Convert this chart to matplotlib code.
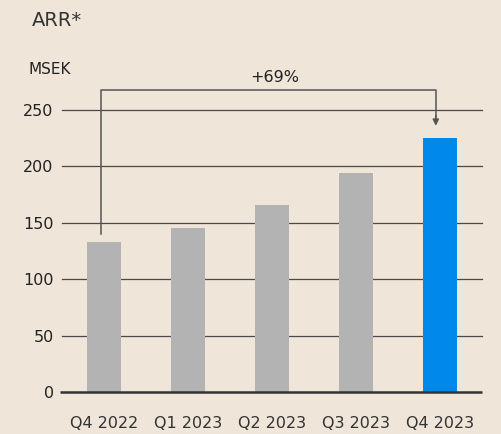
import matplotlib
matplotlib.use("Agg")
from matplotlib import pyplot as plt
import numpy as np

quarters = ["Q4 2022", "Q1 2023", "Q2 2023", "Q3 2023", "Q4 2023"]
arr_msek = [133, 145, 166, 194, 225]
bar_colors = ["#b3b3b3", "#b3b3b3", "#b3b3b3", "#b3b3b3", "#0088ea"]
growth_label = "+69%"

bg = "#efe5d8"
ink = "#222222"
plt.rcParams["font.family"] = ["DejaVu Sans"]

W, H = 501, 434
fig = plt.figure(figsize=(W / 100, H / 100), dpi=100, facecolor=bg)
# axes box in pixels: x 62..482, y (from top) 110..392
ax = fig.add_axes([62 / W, (H - 392) / H, 420 / W, 282 / H], facecolor=bg)

index = np.arange(len(quarters))
for y in [50, 100, 150, 200, 250]:
    ax.axhline(y, color="#4a4a4a", lw=0.9, zorder=1, clip_on=False)
ax.plot([-0.525, 4.5], [0, 0], color="#333333", lw=1.8, zorder=3,
        clip_on=False, solid_capstyle="butt")

ax.bar(index, arr_msek, 0.4, color=bar_colors, zorder=2)

ax.set_xlim(-0.5, 4.5)
ax.set_ylim(0, 250)
for s in ax.spines.values():
    s.set_visible(False)

ax.set_yticks([0, 50, 100, 150, 200, 250])
ax.set_xticks(index)
ax.set_xticklabels(quarters)
ax.tick_params(axis="y", length=0, pad=6, labelsize=11.5, labelcolor=ink)
ax.tick_params(axis="x", length=0, pad=17, labelsize=11.5, labelcolor="#333333")

# growth bracket from first to last quarter
x0 = index[0] - 0.035
x1 = index[-1] - 0.05
top = 268
ax.plot([x0, x0, x1, x1], [140, top, top, 244], color="#555555", lw=1.1,
        clip_on=False, zorder=4)
ax.annotate("", xy=(x1, arr_msek[-1] + 11), xytext=(x1, 245),
            arrowprops=dict(arrowstyle="-|>", color="#555555", lw=1.1,
                            mutation_scale=9, shrinkA=0, shrinkB=0),
            annotation_clip=False)
ax.text((x0 + x1) / 2 + 0.08, top + 4, growth_label, ha="center", va="bottom",
        fontsize=11.5, color=ink)

fig.text(32 / W, 1 - 20 / H, "ARR*", ha="left", va="center",
         fontsize=14, color="#333333")
fig.text(29 / W, 1 - 70 / H, "MSEK", ha="left", va="center",
         fontsize=11, color=ink)

fig.savefig("out.png", dpi=100, facecolor=bg)
